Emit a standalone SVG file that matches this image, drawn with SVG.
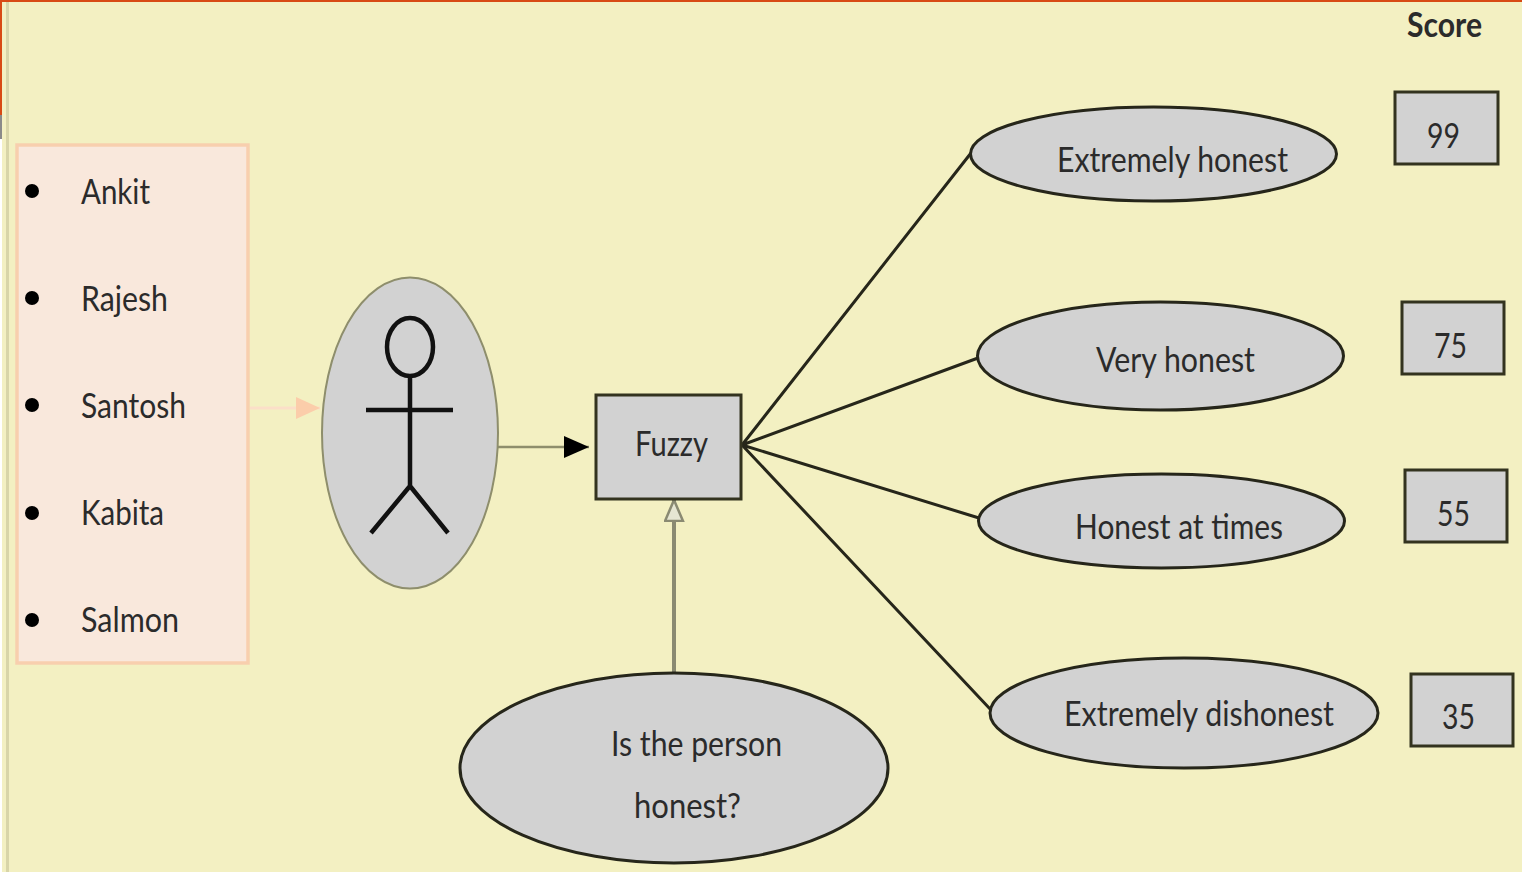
<svg xmlns="http://www.w3.org/2000/svg" width="1522" height="872" viewBox="0 0 1522 872">
<style>
text{font-family:Lato,"Liberation Sans",sans-serif;font-size:35px;fill:#2b2b2b;text-anchor:start}
.el{fill:#d2d2d2;stroke:#26261a;stroke-width:3}
.box{fill:#d2d2d2;stroke:#33331f;stroke-width:3}
.ln{fill:none;stroke:#26261a;stroke-width:3}
.st{fill:none;stroke:#111;stroke-width:4.500}
.dot{fill:#000}
</style>
<defs>
<marker id="ab" markerUnits="userSpaceOnUse" markerWidth="26" markerHeight="24" refX="25" refY="12" orient="auto"><path d="M0 1L25 12L0 23Z" fill="#000"/></marker>
<marker id="ap" markerUnits="userSpaceOnUse" markerWidth="26" markerHeight="24" refX="24" refY="12" orient="auto"><path d="M0 1L24 12L0 23Z" fill="#fbcdaa"/></marker>
<marker id="ao" markerUnits="userSpaceOnUse" markerWidth="24" markerHeight="22" refX="22" refY="10" orient="auto"><path d="M1 1L22 10L1 19Z" fill="#e6e6d2" stroke="#8a8a72" stroke-width="2.500"/></marker>
</defs>
<rect width="1522" height="872" fill="#f3f0c2"/>
<rect x="6" y="0" width="3" height="872" fill="#d8d5a8"/>
<rect x="0" y="0" width="1522" height="2" fill="#d84a14"/>
<rect x="0" y="0" width="2" height="115" fill="#d84a14"/>
<rect x="0" y="115" width="2" height="24" fill="#8a8a8a"/>
<rect x="0" y="139" width="2" height="733" fill="#fff"/>

<g id="connectors">
<line x1="250" y1="408" x2="320" y2="408" stroke="#fbdfc8" stroke-width="3" marker-end="url(#ap)"/>
<line x1="498" y1="447" x2="589" y2="447" stroke="#8e8e6c" stroke-width="2.500" marker-end="url(#ab)"/>
<line x1="674" y1="680" x2="674" y2="500" stroke="#8a8a72" stroke-width="4" marker-end="url(#ao)"/>
<path class="ln" d="M742 445L971 153M742 445L978 358M742 445L979 518M742 445L991 710"/>
</g>

<g id="list">
<rect x="17" y="145" width="231" height="518" fill="#f9e8dc" stroke="#f8cfae" stroke-width="3.500"/>
<circle class="dot" cx="32" cy="191" r="7"/><text x="81" y="204" textLength="69" lengthAdjust="spacingAndGlyphs">Ankit</text>
<circle class="dot" cx="32" cy="298" r="7"/><text x="81" y="311" textLength="87" lengthAdjust="spacingAndGlyphs">Rajesh</text>
<circle class="dot" cx="32" cy="405" r="7"/><text x="81" y="418" textLength="105" lengthAdjust="spacingAndGlyphs">Santosh</text>
<circle class="dot" cx="32" cy="513" r="7"/><text x="81" y="525" textLength="83" lengthAdjust="spacingAndGlyphs">Kabita</text>
<circle class="dot" cx="32" cy="620" r="7"/><text x="81" y="632" textLength="98" lengthAdjust="spacingAndGlyphs">Salmon</text>
</g>

<g id="person">
<ellipse cx="410" cy="433" rx="88" ry="155.500" fill="#d2d2d2" stroke="#8e8e6c" stroke-width="2"/>
<ellipse class="st" cx="410" cy="347" rx="23" ry="29"/>
<path class="st" d="M410 376V488M366 410H453M410 486L371 533M410 486L448 533"/>
</g>

<g id="fuzzy"><rect class="box" x="596" y="395" width="145" height="104"/><text x="635" y="456" textLength="73" lengthAdjust="spacingAndGlyphs">Fuzzy</text></g>

<g id="question"><ellipse class="el" cx="674" cy="768" rx="214" ry="95"/>
<text x="611" y="756" textLength="171" lengthAdjust="spacingAndGlyphs">Is the person</text>
<text x="634" y="818" textLength="107" lengthAdjust="spacingAndGlyphs">honest?</text></g>

<g id="o1"><ellipse class="el" cx="1153.500" cy="154" rx="183" ry="47"/><text x="1057" y="172" textLength="231" lengthAdjust="spacingAndGlyphs">Extremely honest</text></g>
<g id="o2"><ellipse class="el" cx="1160.500" cy="356" rx="183" ry="54"/><text x="1096" y="372" textLength="159" lengthAdjust="spacingAndGlyphs">Very honest</text></g>
<g id="o3"><ellipse class="el" cx="1161.500" cy="521" rx="183" ry="47"/><text x="1075" y="539" textLength="208" lengthAdjust="spacingAndGlyphs">Honest at times</text></g>
<g id="o4"><ellipse class="el" cx="1184" cy="713" rx="194" ry="55"/><text x="1064" y="726" textLength="270" lengthAdjust="spacingAndGlyphs">Extremely dishonest</text></g>

<text x="1407" y="37" textLength="75" lengthAdjust="spacingAndGlyphs" font-weight="700">Score</text>
<g id="s1"><rect class="box" x="1395" y="92" width="103" height="72"/><text x="1427" y="148" textLength="33" lengthAdjust="spacingAndGlyphs">99</text></g>
<g id="s2"><rect class="box" x="1402" y="302" width="102" height="72"/><text x="1434" y="358" textLength="33" lengthAdjust="spacingAndGlyphs">75</text></g>
<g id="s3"><rect class="box" x="1405" y="470" width="102" height="72"/><text x="1437" y="526" textLength="33" lengthAdjust="spacingAndGlyphs">55</text></g>
<g id="s4"><rect class="box" x="1411" y="674" width="102" height="72"/><text x="1442" y="729" textLength="33" lengthAdjust="spacingAndGlyphs">35</text></g>
</svg>
